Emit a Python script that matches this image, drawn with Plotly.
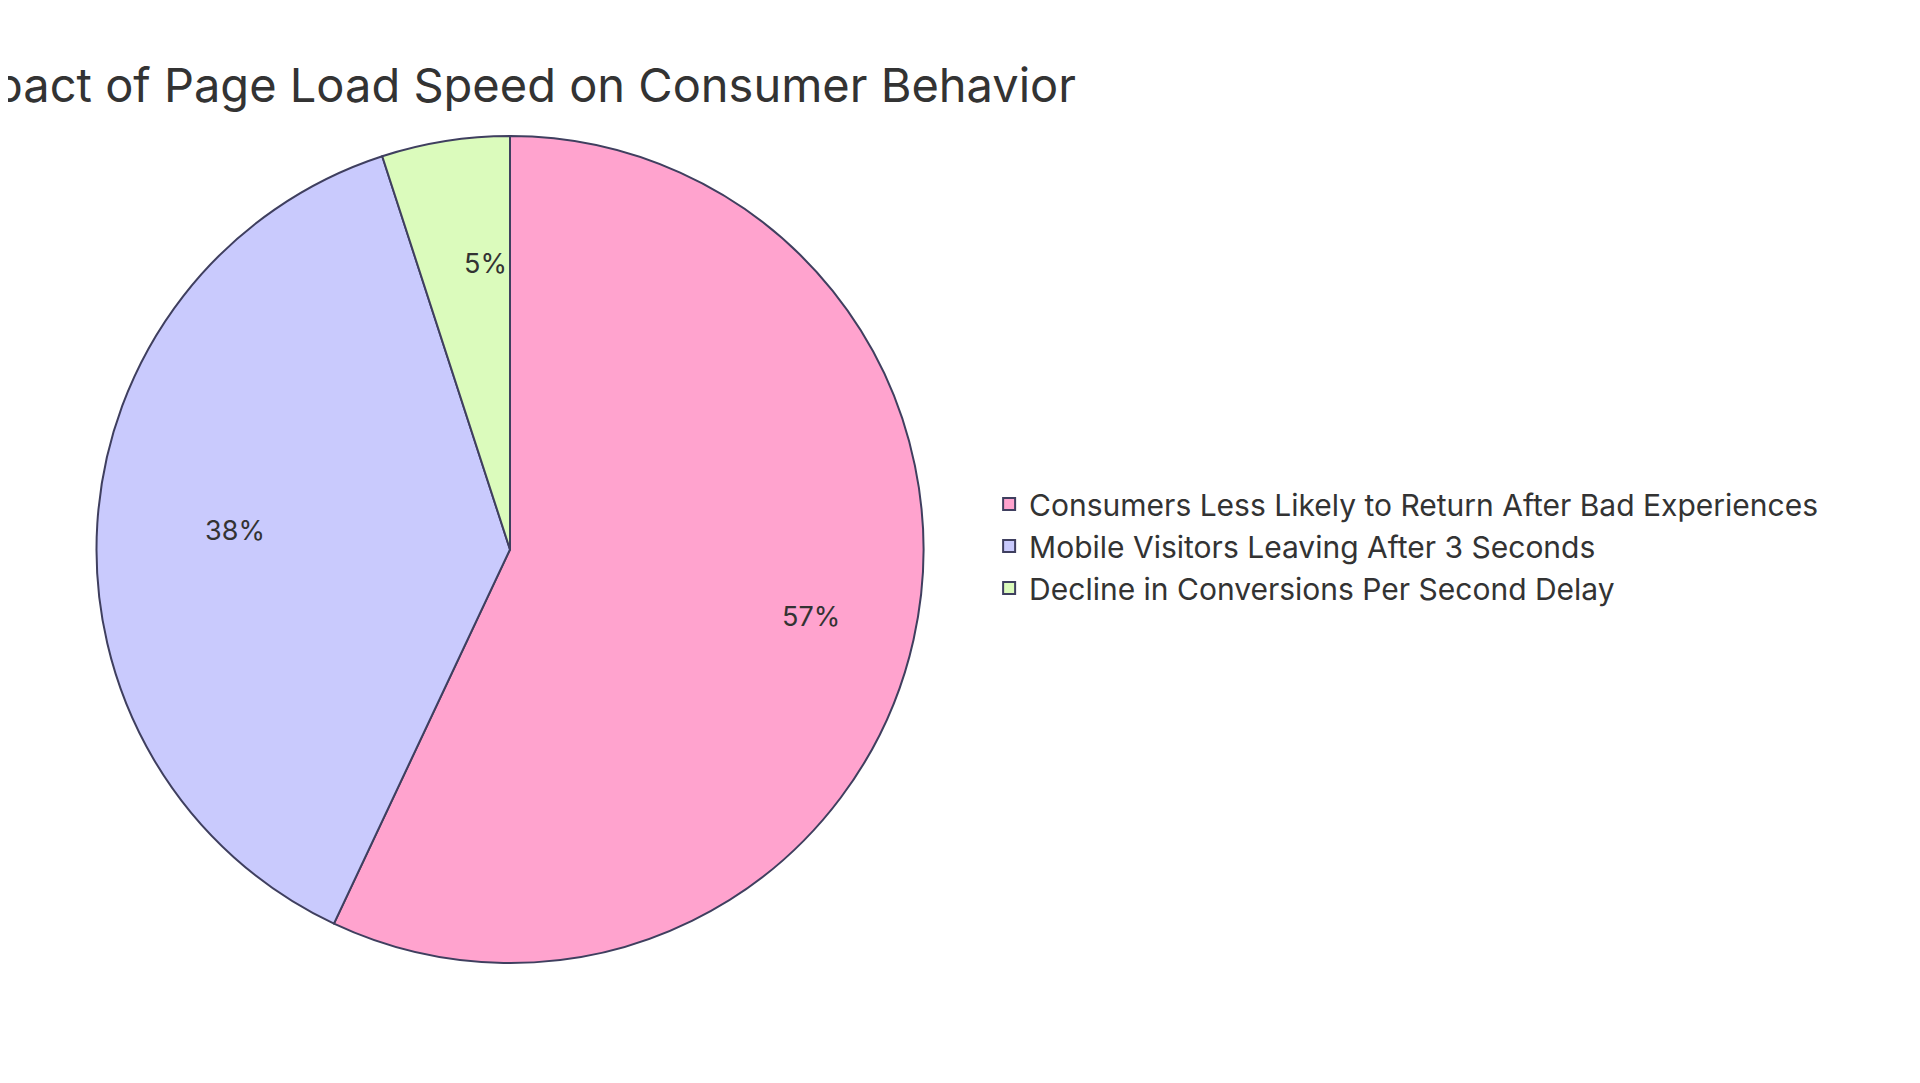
import math
import plotly.graph_objects as go

labels = ["Consumers Less Likely to Return After Bad Experiences",
          "Mobile Visitors Leaving After 3 Seconds",
          "Decline in Conversions Per Second Delay"]
values = [57, 38, 5]
colors = ["#FFA3CE", "#C9CAFD", "#DBFBBC"]

W, H = 1920, 1083
cx, cy, R = 502, 541.5, 413.5  # pie centre / radius in pixels
dom_x = [(cx - R) / W, (cx + R) / W]
dom_y = [1 - (cy + R) / H, 1 - (cy - R) / H]

fig = go.Figure(go.Pie(
    labels=labels, values=values, sort=False, direction="clockwise", rotation=0,
    marker=dict(colors=colors, line=dict(color="#3F3F5F", width=2)),
    textinfo="none",
    domain=dict(x=dom_x, y=dom_y),
    hoverinfo="label+percent",
))

total = sum(values)
cum = 0
annotations = []
for v in values:
    mid = (cum + v / 2) / total * 2 * math.pi
    cum += v
    px = cx + 0.745 * R * math.sin(mid)
    py = cy - 0.745 * R * math.cos(mid)
    annotations.append(dict(x=px / W, y=1 - py / H, xref="paper", yref="paper",
                            text=f"{round(v / total * 100)}%", showarrow=False,
                            font=dict(size=27, color="#333333", family="Inter")))

fig.update_layout(
    width=W, height=H,
    paper_bgcolor="white", plot_bgcolor="white",
    margin=dict(l=0, r=0, t=0, b=0),
    font=dict(family="Inter", color="#333333"),
    annotations=annotations,
    title=dict(text="Impact of Page Load Speed on Consumer Behavior",
               x=1068 / W, xanchor="right", xref="paper",
               y=1 - 78 / H, yanchor="middle", yref="container",
               font=dict(size=47, color="#333333", family="Inter")),
    legend=dict(x=0.511, xanchor="left", y=1 - 538 / H, yanchor="middle",
                font=dict(size=30, color="#333333", family="Inter"),
                itemsizing="constant", tracegroupgap=0),
)
fig.write_html("out.html")
